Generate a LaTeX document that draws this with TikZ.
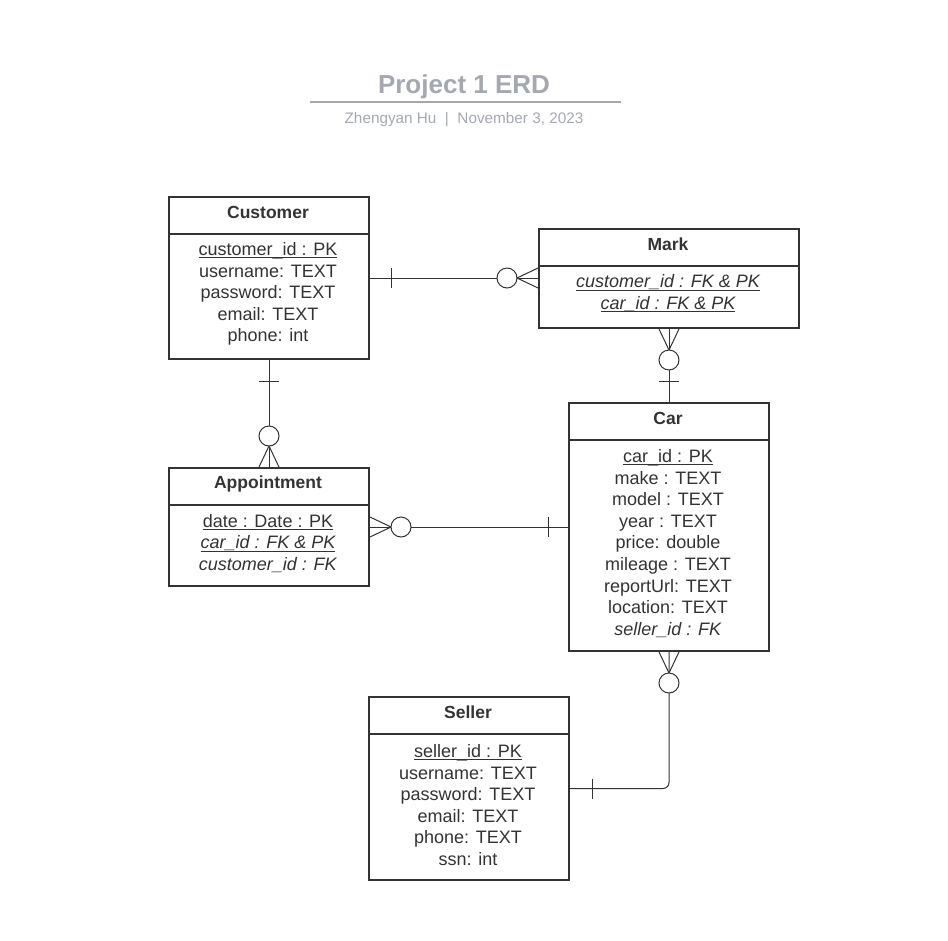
\documentclass[tikz,border=0pt]{standalone}
\usepackage{fontspec}
\setmainfont{Liberation Sans}
\usetikzlibrary{calc}
\definecolor{ink}{HTML}{333333}
\definecolor{titlegray}{HTML}{A4A8B1}
\newcommand{\ulx}[1]{\setbox0\hbox{#1}\rlap{\rule[-2.6pt]{\wd0}{1pt}}\box0}
\begin{document}
\begin{tikzpicture}[x=1pt,y=-1pt,
 entity/.style={draw=ink,line width=2pt,inner sep=0pt,anchor=north west},
 boxline/.style={draw=ink,line width=2pt},
 hdr/.style={font=\fontsize{17.5}{21}\selectfont\bfseries,text=ink,inner sep=0pt},
 attr/.style={font=\fontsize{18}{21.6}\selectfont,text=ink,align=center,inner sep=0pt},
 conn/.style={draw=ink,line width=1pt},
 mk/.style={draw=ink,line width=1pt,fill=white}]
\useasboundingbox (0,0) rectangle (948,940);

% title
\node[font=\fontsize{26}{30}\selectfont\bfseries,text=titlegray] (title) at (464,86.5) {Project 1 ERD};
\draw[titlegray,line width=2pt] (310,102) -- (621,102);
\node[font=\fontsize{15.3}{18}\selectfont,text=titlegray] (subtitle) at (464,119.5) {Zhengyan Hu~~|~~November 3, 2023};

% entities
\node[entity,minimum width=200pt,minimum height=162pt] (cust) at (168,196) {};
\node[entity,minimum width=260pt,minimum height=99pt] (mark) at (538,228) {};
\node[entity,minimum width=200pt,minimum height=248pt] (car) at (568,402) {};
\node[entity,minimum width=200pt,minimum height=118pt] (appt) at (168,467) {};
\node[entity,minimum width=200pt,minimum height=183pt] (seller) at (368,696) {};

\foreach \e in {cust,mark,car,appt,seller}
  \draw[boxline] ($(\e.north west)+(0,38)$) -- ($(\e.north east)+(0,38)$);

% headers
\node[hdr] (custh) at (268,212.5) {Customer};
\node[hdr] (markh) at (668,244.5) {Mark};
\node[hdr] (carh) at (668,418.5) {Car};
\node[hdr] (appth) at (268,483.5) {Appointment};
\node[hdr] (sellerh) at (468,712.5) {Seller};

% attributes
\node[attr] (custb) at (268,294) {\ulx{customer\_id : PK}\\username: TEXT\\password: TEXT\\email: TEXT\\phone: int};
\node[attr] (markb) at (668,293.5) {\ulx{\itshape customer\_id : FK \& PK}\\\ulx{\itshape car\_id : FK \& PK}};
\node[attr] (carb) at (668,543.5) {\ulx{car\_id : PK}\\make : TEXT\\model : TEXT\\year : TEXT\\price: double\\mileage : TEXT\\reportUrl: TEXT\\location: TEXT\\\textit{seller\_id : FK}};
\node[attr] (apptb) at (268,543.5) {\ulx{date : Date : PK}\\\ulx{\itshape car\_id : FK \& PK}\\\textit{customer\_id : FK}};
\node[attr] (sellerb) at (468,805) {\ulx{seller\_id : PK}\\username: TEXT\\password: TEXT\\email: TEXT\\phone: TEXT\\ssn: int};

% Customer -- Mark
\coordinate (mw) at (cust.east -| mark.west);
\draw[conn] (cust.east) -- (mw);
\draw[conn] ($(cust.east)+(21,-10)$) -- ++(0,20);
\draw[conn] ($(mw)+(0,-10)$) -- ($(mw)+(-21,0)$) -- ($(mw)+(0,10)$);
\draw[mk] ($(mw)+(-31,0)$) circle (10);

% Mark -- Car
\draw[conn] (mark.south) -- (car.north);
\draw[conn] ($(mark.south)+(-10,0)$) -- ($(mark.south)+(0,21)$) -- ($(mark.south)+(10,0)$);
\draw[mk] ($(mark.south)+(0,31)$) circle (10);
\draw[conn] ($(car.north)+(-10,-21)$) -- ++(20,0);

% Customer -- Appointment
\draw[conn] (cust.south) -- (appt.north);
\draw[conn] ($(cust.south)+(-10,21)$) -- ++(20,0);
\draw[conn] ($(appt.north)+(-10,0)$) -- ($(appt.north)+(0,-21)$) -- ($(appt.north)+(10,0)$);
\draw[mk] ($(appt.north)+(0,-31)$) circle (10);

% Appointment -- Car
\draw[conn] (appt.east) -- (car.west);
\draw[conn] ($(appt.east)+(0,-10)$) -- ($(appt.east)+(21,0)$) -- ($(appt.east)+(0,10)$);
\draw[mk] ($(appt.east)+(31,0)$) circle (10);
\draw[conn] ($(car.west)+(-20,-10)$) -- ++(0,20);

% Car -- Seller
\coordinate (corner) at (car.south |- seller.east);
\draw[conn,rounded corners=6pt] (car.south) -- (corner) -- (seller.east);
\draw[conn] ($(car.south)+(-10,0)$) -- ($(car.south)+(0,21)$) -- ($(car.south)+(10,0)$);
\draw[mk] ($(car.south)+(0,31)$) circle (10);
\draw[conn] ($(seller.east)+(22,-10)$) -- ++(0,20);
\end{tikzpicture}
\end{document}
